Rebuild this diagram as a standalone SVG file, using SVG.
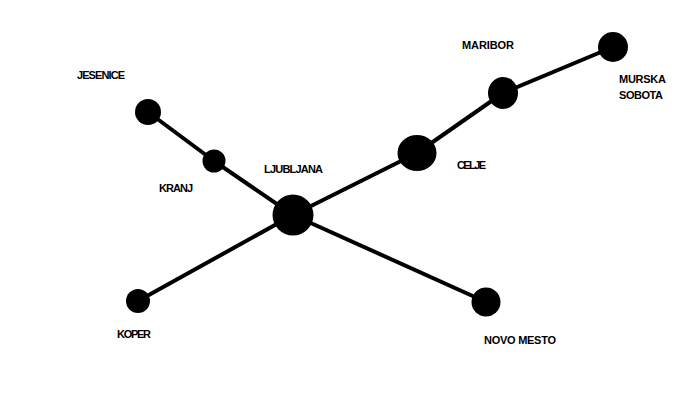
<svg xmlns="http://www.w3.org/2000/svg" width="700" height="400" viewBox="0 0 700 400">
<style>
.n{fill:#000}
.l{font-family:"Liberation Sans",Arial,sans-serif;font-weight:bold;font-size:11px;fill:#000}
.e{stroke:#000;stroke-width:4;fill:none}
</style>
<rect width="700" height="400" fill="#fff"/>
<g id="connectors">
<line class="e" x1="148" y1="112" x2="214" y2="161"/>
<line class="e" x1="214" y1="161" x2="293" y2="215"/>
<line class="e" x1="293" y1="215" x2="417" y2="153"/>
<line class="e" x1="417" y1="153" x2="503" y2="93"/>
<line class="e" x1="503" y1="93" x2="613" y2="47"/>
<line class="e" x1="293" y1="215" x2="138" y2="301"/>
<line class="e" x1="293" y1="215" x2="486" y2="302"/>
</g>
<g id="jesenice"><circle class="n" cx="148" cy="112" r="13"/><text class="l" x="77" y="79" textLength="48">JESENICE</text></g>
<g id="kranj"><circle class="n" cx="214" cy="161" r="11.5"/><text class="l" x="159" y="192" textLength="34">KRANJ</text></g>
<g id="ljubljana"><circle class="n" cx="293" cy="215" r="20.5"/><text class="l" x="264" y="173" textLength="59">LJUBLJANA</text></g>
<g id="celje"><ellipse class="n" cx="417" cy="153" rx="19.5" ry="18"/><text class="l" x="457" y="169" textLength="29">CELJE</text></g>
<g id="maribor"><ellipse class="n" cx="503" cy="93" rx="15" ry="16"/><text class="l" x="462" y="49" textLength="52">MARIBOR</text></g>
<g id="murska-sobota"><circle class="n" cx="613" cy="47" r="15"/><text class="l" x="619" y="83" textLength="47">MURSKA</text><text class="l" x="619" y="99" textLength="44">SOBOTA</text></g>
<g id="koper"><circle class="n" cx="138" cy="301" r="12"/><text class="l" x="117" y="338" textLength="34">KOPER</text></g>
<g id="novo-mesto"><circle class="n" cx="486" cy="302" r="14.5"/><text class="l" x="484" y="344" textLength="72">NOVO MESTO</text></g>
</svg>
